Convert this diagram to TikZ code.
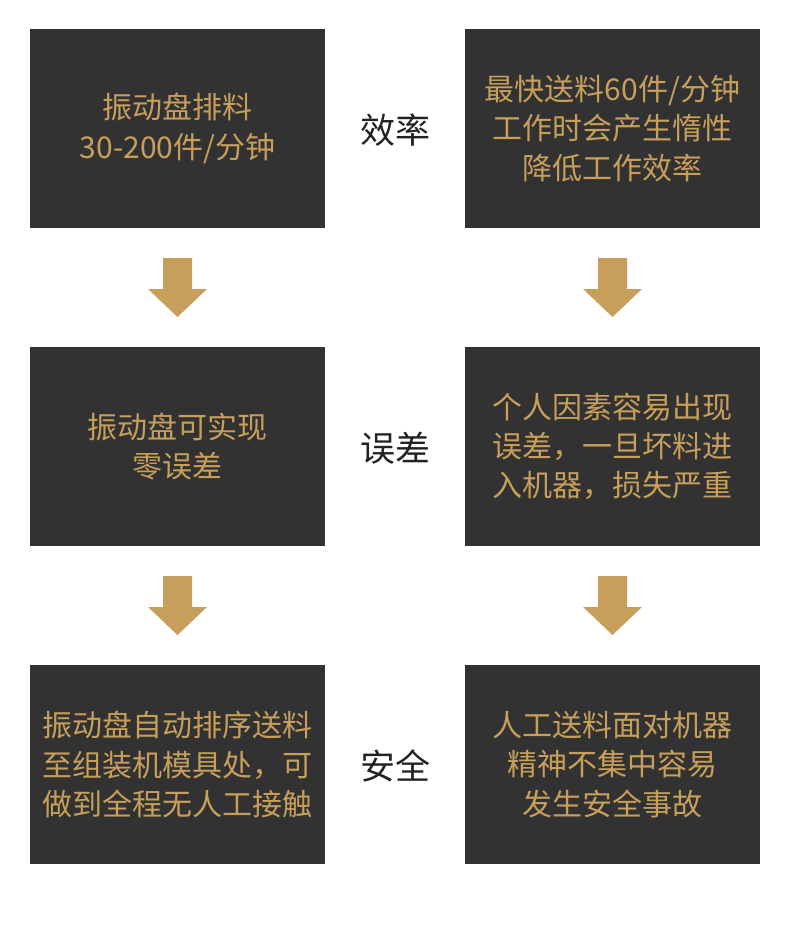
\documentclass[tikz,border=0pt]{standalone}
\usepackage{fontspec}
\setmainfont{Noto Sans CJK SC}
\definecolor{boxc}{HTML}{323232}
\definecolor{goldc}{HTML}{C79F5B}
\definecolor{labc}{HTML}{222222}
\begin{document}
\begin{tikzpicture}[x=1pt,y=-1pt,
  panel/.style={fill=boxc,draw=none,minimum width=295pt,minimum height=199pt,inner sep=0pt,
    text=goldc,align=center,font=\fontsize{30}{39.3}\selectfont},
  mid/.style={text=labc,font=\fontsize{35}{40}\selectfont,inner sep=0pt},
  downarrow/.style={fill=goldc,draw=none}]
\useasboundingbox (0,0) rectangle (790,945);
\fill[white] (0,0) rectangle (790,945);
\node[panel] (l1) at (177.5,128.5) {振动盘排料\\30-200件/分钟};
\node[panel] (r1) at (612.5,128.5) {最快送料60件/分钟\\工作时会产生惰性\\降低工作效率};
\node[panel] (l2) at (177.5,446.5) {振动盘可实现\\零误差};
\node[panel] (r2) at (612.5,446.5) {个人因素容易出现\\误差，一旦坏料进\\入机器，损失严重};
\node[panel] (l3) at (177.5,764.5) {振动盘自动排序送料\\至组装机模具处，可\\做到全程无人工接触};
\node[panel] (r3) at (612.5,764.5) {人工送料面对机器\\精神不集中容易\\发生安全事故};
\node[mid] (m1) at (395,130) {效率};
\node[mid] (m2) at (395,448) {误差};
\node[mid] (m3) at (395,766) {安全};
\foreach \cx/\ty in {177.5/258, 612.5/258, 177.5/576, 612.5/576}{
  \fill[downarrow] (\cx-14.5,\ty) -- (\cx+14.5,\ty) -- (\cx+14.5,\ty+31) -- (\cx+29.5,\ty+31)
    -- (\cx,\ty+59) -- (\cx-29.5,\ty+31) -- (\cx-14.5,\ty+31) -- cycle;
}
\end{tikzpicture}
\end{document}
